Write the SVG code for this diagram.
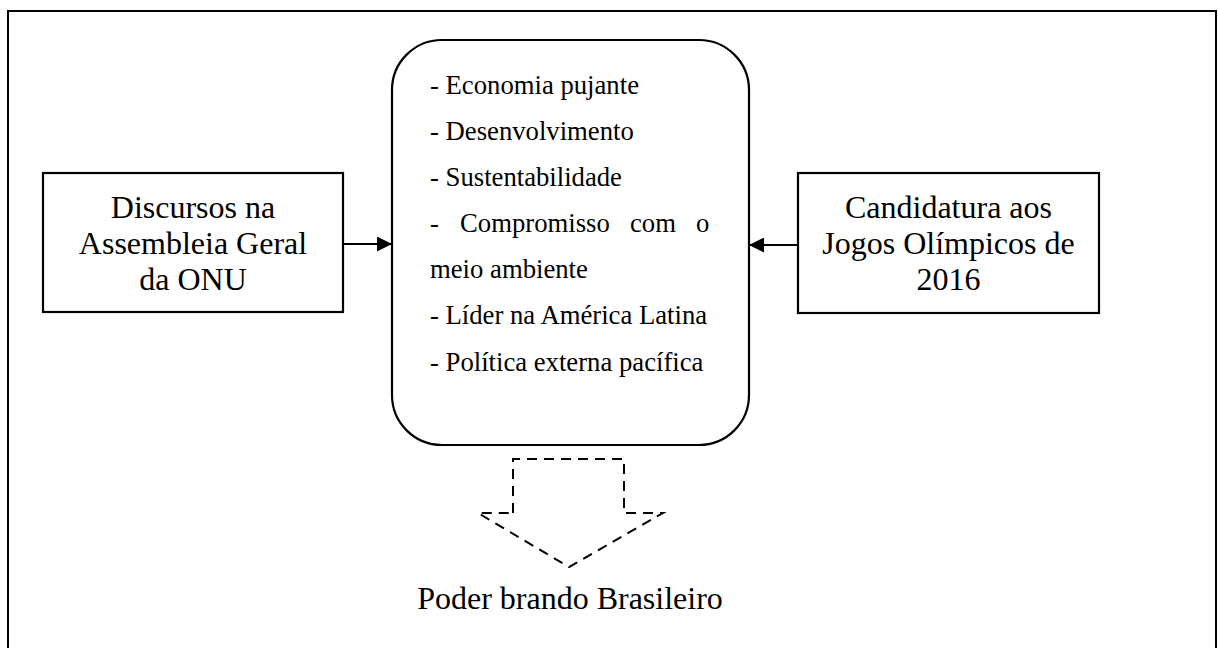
<svg xmlns="http://www.w3.org/2000/svg" width="1218" height="648" viewBox="0 0 1218 648">
<style>
text{font-family:'Liberation Serif','Times New Roman',serif;fill:#000}
.lbl{font-size:32px;text-anchor:middle}
.lst{font-size:26.7px}
.box{fill:#fff;stroke:#000;stroke-width:2.2}
.conn{stroke:#000;stroke-width:2;fill:none}
.dash{stroke:#000;stroke-width:2;fill:none;stroke-dasharray:10,7}
</style>
<defs>
<marker id="ah" markerWidth="15" markerHeight="15" refX="15" refY="7.5" orient="auto" markerUnits="userSpaceOnUse">
<path d="M0,0 L15,7.5 L0,15 Z" fill="#000"/>
</marker>
</defs>
<rect width="1218" height="648" fill="#fff"/>
<path d="M8,660 L8,11 L1216,11 L1216,660" fill="none" stroke="#000" stroke-width="2"/>
<g id="n-discursos" font-family="Liberation Serif, serif">
<rect class="box" x="43" y="173" width="300" height="139"/>
<text class="lbl" x="193" y="218">Discursos na</text>
<text class="lbl" x="193" y="254">Assembleia Geral</text>
<text class="lbl" x="193" y="290">da ONU</text>
</g>
<g id="n-atributos" font-family="Liberation Serif, serif">
<rect class="box" x="392" y="40" width="357" height="405" rx="50" ry="50"/>
<text class="lst" x="430" y="94">- Economia pujante</text>
<text class="lst" x="430" y="140">- Desenvolvimento</text>
<text class="lst" x="430" y="186">- Sustentabilidade</text>
<text class="lst" y="232"><tspan x="430">-</tspan><tspan x="460">Compromisso</tspan><tspan x="630">com</tspan><tspan x="696">o</tspan></text>
<text class="lst" x="430" y="278">meio ambiente</text>
<text class="lst" x="430" y="324">- Líder na América Latina</text>
<text class="lst" x="430" y="371">- Política externa pacífica</text>
</g>
<g id="n-candidatura" font-family="Liberation Serif, serif">
<rect class="box" x="798" y="173" width="301" height="140"/>
<text class="lbl" x="948.5" y="218">Candidatura aos</text>
<text class="lbl" x="948.5" y="254">Jogos Olímpicos de</text>
<text class="lbl" x="948.5" y="290">2016</text>
</g>
<g id="connectors">
<line class="conn" x1="343" y1="244" x2="392" y2="244" marker-end="url(#ah)"/>
<line class="conn" x1="798" y1="245" x2="749" y2="245" marker-end="url(#ah)"/>
<path class="dash" d="M513,513 L513,459 L624,459 L624,513 L663,513 L569,567 L478,513 Z"/>
</g>
<g id="n-poder" font-family="Liberation Serif, serif">
<text class="lbl" x="570" y="609">Poder brando Brasileiro</text>
</g>
</svg>
